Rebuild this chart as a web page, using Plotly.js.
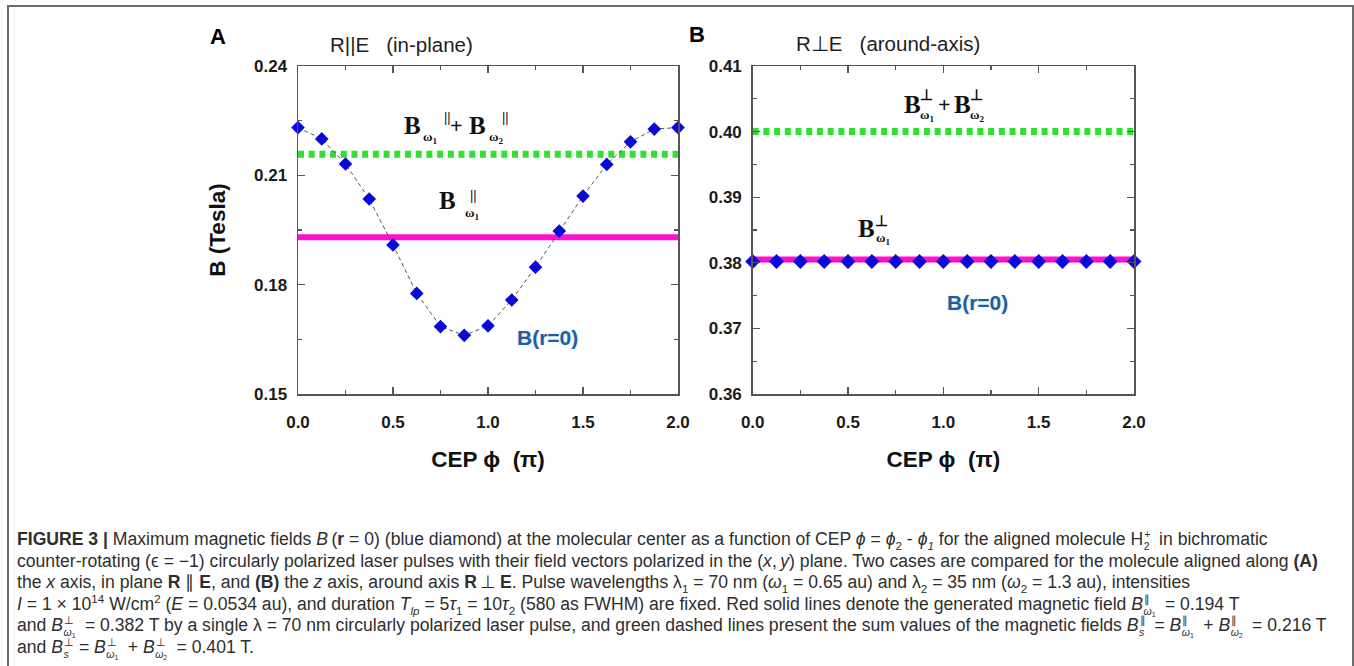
<!DOCTYPE html>
<html>
<head>
<meta charset="utf-8">
<script src="https://cdn.plot.ly/plotly-3.0.1.min.js"></script>
<style>
  html, body { margin: 0; padding: 0; background: #fff; }
  #wrap { position: relative; width: 1354px; height: 666px; overflow: hidden; }
  #chart { position: absolute; left: 0; top: 0; width: 1354px; height: 666px; }
  #frame { position: absolute; left: 7px; top: 5px; width: 1343px; height: 700px;
           border: 2px solid #6b6b6b; border-bottom: none; pointer-events: none; }
  #caption { position: absolute; left: 17px; top: 529px; width: 1330px;
             font-family: "Liberation Sans", Arial, sans-serif; font-size: 17.6px;
             line-height: 21.5px; color: #2e2e2e; white-space: nowrap; }
  #caption sub, #caption sup { font-size: 0.66em; line-height: 0; }
  .ss { display: inline-block; position: relative; width: 11px; height: 0; vertical-align: baseline; }
  .ss.w { width: 17px; }
  .ss > .u { position: absolute; left: 1px; top: -15px; font-size: 10.5px; line-height: 9px; }
  .ss > .d { position: absolute; left: 0.5px; top: -3px; font-size: 10.5px; line-height: 9px; }
  .ss > .d sub { font-size: 8.5px; vertical-align: -2px; line-height: 0; }
</style>
</head>
<body>
<div id="wrap">
  <div id="chart"></div>
  <div id="caption">
    <b>FIGURE 3 |</b> Maximum magnetic fields <i>B</i>&thinsp;(<b>r</b> = 0) (blue diamond) at the molecular center as a function of CEP <i>ϕ</i> = <i>ϕ</i><sub>2</sub> - <i>ϕ</i><sub><i>1</i></sub> for the aligned molecule H<span class="ss"><span class="u">+</span><span class="d">2</span></span> in bichromatic<br>
    counter-rotating (ϵ = −1) circularly polarized laser pulses with their field vectors polarized in the (<i>x</i>,&thinsp;<i>y</i>) plane. Two cases are compared for the molecule aligned along <b>(A)</b><br>
    the <i>x</i> axis, in plane <b>R</b> ∥ <b>E</b>, and <b>(B)</b> the <i>z</i> axis, around axis <b>R</b>&thinsp;⊥&thinsp;<b>E</b>. Pulse wavelengths λ<sub>1</sub> = 70 nm (<i>ω</i><sub>1</sub> = 0.65 au) and λ<sub>2</sub> = 35 nm (<i>ω</i><sub>2</sub> = 1.3 au), intensities<br>
    <i>I</i> = 1 × 10<sup>14</sup> W/cm<sup>2</sup> (<i>E</i> = 0.0534 au), and duration <i>T</i><sub><i>lp</i></sub> = 5<i>τ</i><sub>1</sub> = 10<i>τ</i><sub>2</sub> (580 as FWHM) are fixed. Red solid lines denote the generated magnetic field <i>B</i><span class="ss w"><span class="u">∥</span><span class="d"><i>ω</i><sub>1</sub></span></span> = 0.194 T<br>
    and <i>B</i><span class="ss w"><span class="u">⊥</span><span class="d"><i>ω</i><sub>1</sub></span></span> = 0.382 T by a single λ = 70 nm circularly polarized laser pulse, and green dashed lines present the sum values of the magnetic fields <i>B</i><span class="ss"><span class="u">∥</span><span class="d"><i>s</i></span></span> = <i>B</i><span class="ss w"><span class="u">∥</span><span class="d"><i>ω</i><sub>1</sub></span></span> + <i>B</i><span class="ss w"><span class="u">∥</span><span class="d"><i>ω</i><sub>2</sub></span></span> = 0.216 T<br>
    and <i>B</i><span class="ss"><span class="u">⊥</span><span class="d"><i>s</i></span></span> = <i>B</i><span class="ss w"><span class="u">⊥</span><span class="d"><i>ω</i><sub>1</sub></span></span> + <i>B</i><span class="ss w"><span class="u">⊥</span><span class="d"><i>ω</i><sub>2</sub></span></span> = 0.401 T.
  </div>
  <div id="frame"></div>
</div>
<script>
// ---------------- data ----------------
const cep = [0, 0.125, 0.25, 0.375, 0.5, 0.625, 0.75, 0.875, 1.0, 1.125, 1.25, 1.375, 1.5, 1.625, 1.75, 1.875, 2.0];
// Panel A: R || E (in-plane), B(r=0) in Tesla
const bInPlane = [0.2231, 0.2200, 0.2131, 0.2035, 0.1909, 0.1776, 0.1685, 0.1661, 0.1687, 0.1758, 0.1848, 0.1947, 0.2043, 0.2130, 0.2192, 0.2227, 0.2231];
const sumInPlane = 0.2158;     // B||w1 + B||w2
const singleInPlane = 0.1930;  // B||w1
// Panel B: R ⊥ E (around-axis)
const bAroundAxis = [0.3802, 0.3802, 0.3802, 0.3802, 0.3802, 0.3802, 0.3802, 0.3802, 0.3802, 0.3802, 0.3802, 0.3802, 0.3802, 0.3802, 0.3802, 0.3802, 0.3802];
const sumAroundAxis = 0.4000;
const singleAroundAxis = 0.3805;

const xTicks = [0, 0.5, 1.0, 1.5, 2.0];
const xMinor = [0.25, 0.75, 1.25, 1.75];
const yTicksA = [0.15, 0.18, 0.21, 0.24];
const yMinorA = [0.165, 0.195, 0.225];
const yTicksB = [0.36, 0.37, 0.38, 0.39, 0.40, 0.41];
const yMinorB = [0.365, 0.375, 0.385, 0.395, 0.405];

// ---------------- styles ----------------
const GREEN = '#2fe02f';
const MAGENTA = '#ff10cf';
const BLUE = '#0a0ad8';
const xEnds = [cep[0], cep[cep.length - 1]];

function hline(xa, ya, val, color, width, dash) {
  return { x: xEnds, y: [val, val], xaxis: xa, yaxis: ya, mode: 'lines',
           line: { color: color, width: width, dash: dash }, hoverinfo: 'skip', showlegend: false };
}
function diamonds(xa, ya, yvals, size) {
  return { x: cep, y: yvals, xaxis: xa, yaxis: ya, mode: 'lines+markers', cliponaxis: false,
           line: { color: '#555555', width: 1, dash: '4px,3px' },
           marker: { symbol: 'diamond', size: size, color: BLUE, line: { width: 0 } },
           showlegend: false };
}

const traces = [
  hline('x', 'y', sumInPlane, GREEN, 7, '6px,4.7px'),
  hline('x', 'y', singleInPlane, MAGENTA, 6, 'solid'),
  diamonds('x', 'y', bInPlane, 10.5),
  hline('x2', 'y2', sumAroundAxis, GREEN, 7, '6px,4.7px'),
  hline('x2', 'y2', singleAroundAxis, MAGENTA, 6, 'solid'),
  diamonds('x2', 'y2', bAroundAxis, 11.5)
];

const SANS = 'Liberation Sans, Arial, sans-serif';
const tickFont = { family: SANS, size: 17, color: '#1a1a1a', weight: 'bold' };
const titleFont = { family: SANS, size: 22.5, color: '#111', weight: 'bold' };

function xAxis(domain, anchor) {
  return { domain: domain, anchor: anchor, range: [0, 2], tickvals: xTicks, tickformat: '.1f',
           ticks: 'inside', ticklen: 7, tickwidth: 1.3, tickcolor: '#555', showline: true, linecolor: '#555',
           linewidth: 1.5, mirror: 'ticks', showgrid: false, zeroline: false, tickfont: tickFont,
           ticklabelstandoff: 12,
           minor: { tickvals: xMinor, ticks: 'inside', ticklen: 4, tickcolor: '#555', showgrid: false },
           title: { text: 'CEP ϕ\u00a0\u00a0(π)', font: titleFont, standoff: 20 } };
}
function yAxis(domain, anchor, range, ticks, minor, title) {
  const ax = { domain: domain, anchor: anchor, range: range, tickvals: ticks, tickformat: '.2f',
           ticks: 'inside', ticklen: 7, tickwidth: 1.3, tickcolor: '#555', showline: true, linecolor: '#555',
           linewidth: 1.5, mirror: 'ticks', showgrid: false, zeroline: false, tickfont: tickFont,
           ticklabelstandoff: 6,
           minor: { tickvals: minor, ticks: 'inside', ticklen: 4, tickcolor: '#555', showgrid: false } };
  if (title) ax.title = { text: title, font: titleFont, standoff: 22 };
  return ax;
}

const W = 1354, H = 666;
const yDom = [(H - 394) / H, (H - 66) / H];

// math-like labels built from pieces (serif, bold)
const SERIF = 'Liberation Serif, Times New Roman, serif';
function piece(xa, ya, x, y, text, dx, dy, size) {
  return { xref: xa, yref: ya, x: x, y: y, text: text, showarrow: false,
           xanchor: 'left', yanchor: 'middle', xshift: dx, yshift: -dy,
           font: { family: SERIF, size: size, color: '#111', weight: 'bold' } };
}
function stackedB(xa, ya, x, y, sup, subIdx, dxStart, supDx, supDy, subDx, subDy) {
  return [
    piece(xa, ya, x, y, 'B', dxStart, 0, 25),
    piece(xa, ya, x, y, sup, dxStart + supDx, supDy, 15),
    piece(xa, ya, x, y, 'ω<sub>' + subIdx + '</sub>', dxStart + subDx, subDy, 13)
  ];
}
function paperText(px, py, text, font) {
  return { xref: 'paper', yref: 'paper', x: px / W, y: 1 - py / H, text: text, showarrow: false,
           xanchor: 'center', yanchor: 'middle', font: font };
}

const letterFont = { family: SANS, size: 22, color: '#000', weight: 'bold' };
const panelTitleFont = { family: SANS, size: 20.5, color: '#1e1e1e' };
const blueLabelFont = { family: SANS, size: 21, color: '#1f5f9f', weight: 'bold',
                        shadow: '0 0 3px #d8e6f4' };

const annotations = [].concat(
  [paperText(218, 36, 'A', letterFont),
   paperText(697, 35, 'B', letterFont),
   paperText(401, 45, 'R||E\u00a0\u00a0\u00a0(in-plane)', panelTitleFont),
   paperText(888, 43, 'R⊥E\u00a0\u00a0\u00a0(around-axis)', panelTitleFont),
   { xref: 'x', yref: 'y', x: 1.311, y: 0.1656, text: 'B(r=0)', showarrow: false,
     xanchor: 'center', yanchor: 'middle', font: blueLabelFont },
   { xref: 'x2', yref: 'y2', x: 1.177, y: 0.3740, text: 'B(r=0)', showarrow: false,
     xanchor: 'center', yanchor: 'middle', font: blueLabelFont }
  ],
  // Panel A: B||w1 + B||w2
  stackedB('x', 'y', 0.547, 0.2238, '||', 1, 0, 40, -8, 19, 12),
  [piece('x', 'y', 0.547, 0.2238, '+', 46, 0, 22)],
  stackedB('x', 'y', 0.547, 0.2238, '||', 2, 65, 33, -8, 20, 12),
  // Panel A: B||w1
  stackedB('x', 'y', 0.732, 0.2032, '||', 1, 0, 31, -5, 26, 13),
  // Panel B: B⊥w1 + B⊥w2
  stackedB('x2', 'y2', 0.783, 0.4042, '⊥', 1, 0, 16, -9, 16, 11),
  [piece('x2', 'y2', 0.783, 0.4042, '+', 34, 0, 22)],
  stackedB('x2', 'y2', 0.783, 0.4042, '⊥', 2, 50, 16, -9, 16, 11),
  // Panel B: B⊥w1
  stackedB('x2', 'y2', 0.542, 0.3853, '⊥', 1, 0, 17, -7, 18, 10)
);

const layout = {
  width: W, height: H,
  margin: { l: 0, r: 0, t: 0, b: 0 },
  paper_bgcolor: 'rgba(0,0,0,0)', plot_bgcolor: 'rgba(0,0,0,0)',
  showlegend: false,
  xaxis: xAxis([298 / W, 678 / W], 'y'),
  yaxis: yAxis(yDom, 'x', [0.15, 0.24], yTicksA, yMinorA, 'B (Tesla)'),
  xaxis2: xAxis([752.7 / W, 1134 / W], 'y2'),
  yaxis2: yAxis(yDom, 'x2', [0.36, 0.41], yTicksB, yMinorB, null),
  annotations: annotations
};

Plotly.newPlot('chart', traces, layout, { displayModeBar: false, staticPlot: true });
</script>
</body>
</html>
